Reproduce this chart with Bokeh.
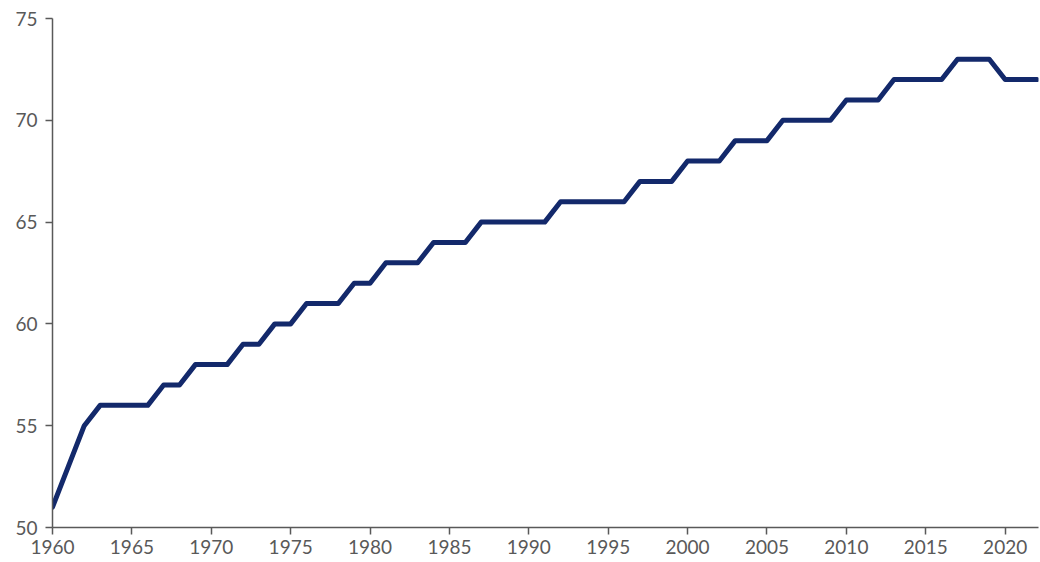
from bokeh.plotting import figure
from bokeh.models import Range1d, FixedTicker, ColumnDataSource
from bokeh.embed import file_html
from bokeh.resources import INLINE

years = list(range(1960, 2023))
values = [51, 53, 55, 56, 56, 56, 56, 57, 57, 58,
          58, 58, 59, 59, 60, 60, 61, 61, 61, 62,
          62, 63, 63, 63, 64, 64, 64, 65, 65, 65,
          65, 65, 66, 66, 66, 66, 66, 67, 67, 67,
          68, 68, 68, 69, 69, 69, 70, 70, 70, 70,
          71, 71, 71, 72, 72, 72, 72, 73, 73, 73,
          72, 72, 72]
x_ticks = list(range(1960, 2021, 5))
y_ticks = [50, 55, 60, 65, 70, 75]

src = ColumnDataSource(dict(year=years, value=values))

p = figure(width=1040, height=562, output_backend="svg", toolbar_location=None,
           x_range=Range1d(1960, 2022.1), y_range=Range1d(50, 75),
           min_border_left=52, min_border_right=2, min_border_top=18, min_border_bottom=35)
p.line("year", "value", source=src, line_color="#13296b", line_width=5,
       line_join="round", line_cap="round")

p.xgrid.visible = False
p.ygrid.visible = False
p.outline_line_color = None
p.background_fill_color = "white"
p.border_fill_color = "white"

for ax in (p.xaxis[0], p.yaxis[0]):
    ax.axis_line_color = "#595959"
    ax.axis_line_width = 1.5
    ax.major_tick_line_color = "#595959"
    ax.major_tick_line_width = 1.5
    ax.major_tick_out = 7
    ax.major_tick_in = 0
    ax.minor_tick_line_color = None
    ax.major_label_text_color = "#595959"
    ax.major_label_text_font = "Lato"
    ax.major_label_text_font_size = "19px"

p.xaxis[0].ticker = FixedTicker(ticks=x_ticks)
p.yaxis[0].ticker = FixedTicker(ticks=y_ticks)
p.xaxis[0].major_label_standoff = 5
p.yaxis[0].major_label_standoff = 8

open("out.html", "w").write(file_html(p, INLINE))
